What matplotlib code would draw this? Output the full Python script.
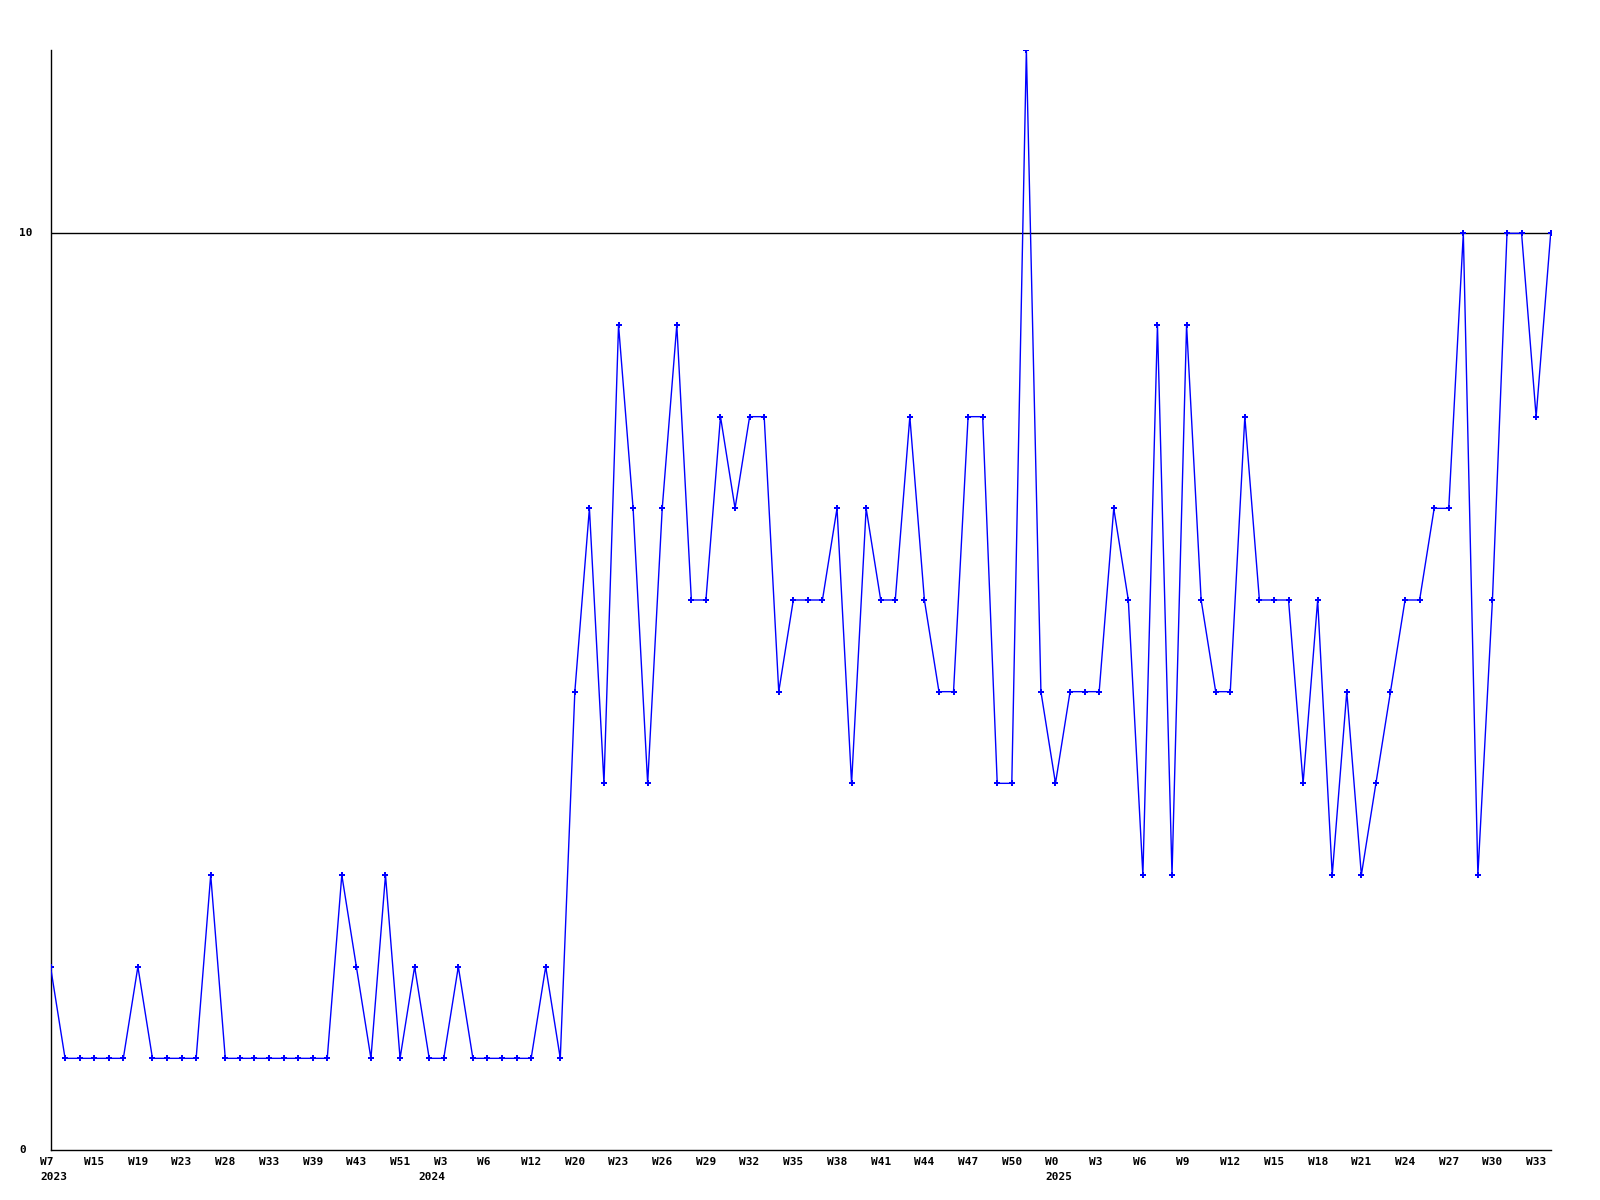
import matplotlib
matplotlib.use("Agg")
import matplotlib.pyplot as plt
import matplotlib.transforms as mtransforms

week_labels = ["W7", "W15", "W19", "W23", "W28", "W33", "W39", "W43", "W51", "W3", "W6", "W12",
               "W20", "W23", "W26", "W29", "W32", "W35", "W38", "W41", "W44", "W47", "W50", "W0",
               "W3", "W6", "W9", "W12", "W15", "W18", "W21", "W24", "W27", "W30", "W33"]
label_step = 3
year_positions = [0, 27, 69]
year_labels = ["2023", "2024", "2025"]
y_ticks = [0, 10]

values = [2, 1, 1, 1, 1, 1, 2, 1, 1, 1, 1, 3, 1, 1, 1, 1, 1, 1, 1, 1,
          3, 2, 1, 3, 1, 2, 1, 1, 2, 1, 1, 1, 1, 1, 2, 1, 5, 7, 4, 9,
          7, 4, 7, 9, 6, 6, 8, 7, 8, 8, 5, 6, 6, 6, 7, 4, 7, 6, 6, 8,
          6, 5, 5, 8, 8, 4, 4, 12, 5, 4, 5, 5, 5, 7, 6, 3, 9, 3, 9, 6,
          5, 5, 8, 6, 6, 6, 4, 6, 3, 5, 3, 4, 5, 6, 6, 7, 7, 10, 3, 6,
          10, 10, 8, 10]

W, H = 1600, 1200
fig = plt.figure(figsize=(16, 12), dpi=100)
fig.patch.set_facecolor("white")
left, right, bottom, top = 50.5, 1550.7, 1150, 50
ax = fig.add_axes([left / W, (H - bottom) / H, (right - left) / W, (bottom - top) / H])

x = list(range(len(values)))
ax.plot(x, values, color=(0, 0, 1), lw=1.0, marker="P", markersize=4.5,
        markeredgewidth=0, zorder=3)

ax.set_xlim(0, len(values) - 1)
ax.set_ylim(0, 12)
for s in ["top", "right"]:
    ax.spines[s].set_visible(False)
for s in ["left", "bottom"]:
    ax.spines[s].set_color("black")
    ax.spines[s].set_linewidth(1.0)
ax.set_xticks([])
ax.set_yticks([])
ax.axhline(10, color="black", lw=1.0, zorder=2)

font = dict(family="DejaVu Sans Mono", fontweight="bold", fontsize=8)
blend_x = mtransforms.blended_transform_factory(ax.transData, ax.transAxes)
for k, lab in enumerate(week_labels):
    i = k * label_step
    tr = blend_x + mtransforms.ScaledTranslation(0, -12 / 100, fig.dpi_scale_trans)
    ax.text(i, 0, lab.ljust(3), transform=tr, ha="center", va="center", **font)

year_align = ["left", "right", "left"]
year_dx = [-10, 2, -10]
for i, yl, ha, dx in zip(year_positions, year_labels, year_align, year_dx):
    tr = blend_x + mtransforms.ScaledTranslation(dx / 100, -27 / 100, fig.dpi_scale_trans)
    ax.text(i, 0, yl, transform=tr, ha=ha, va="center", **font)

blend_y = mtransforms.blended_transform_factory(fig.transFigure, ax.transData)
for v in y_ticks:
    ax.text(19 / W, v, str(v), transform=blend_y, ha="left", va="center", **font)

fig.savefig("out.png", dpi=100, facecolor="white")
